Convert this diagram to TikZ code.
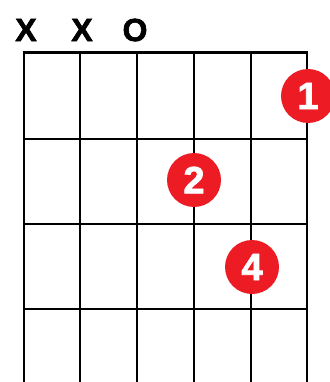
\documentclass[tikz,border=0pt]{standalone}
\usepackage{fontspec}
\setmainfont{Liberation Sans}[BoldFeatures={FakeBold=2}]
\usepackage{xcolor}
\usetikzlibrary{positioning}
\definecolor{dotred}{RGB}{237,28,36}

\begin{document}
\begin{tikzpicture}[
    x=1pt, y=-1pt,
    gridline/.style={draw, line width=2.2pt},
    nutline/.style={draw, line width=3pt},
    mute/.style={inner sep=0pt, font=\bfseries\fontsize{32}{32}\selectfont},
    dot/.style={circle, fill=dotred, minimum size=54pt, inner sep=0pt, text=white, font=\bfseries\fontsize{38}{38}\selectfont}
]
    \useasboundingbox (0,0) rectangle (329,382);

    % strings and frets
    \foreach \sx in {24,80,137,194,251,307}
        \draw [gridline] (\sx,53) -- (\sx,383);
    \foreach \fy in {139,224,309}
        \draw [gridline] (24,\fy) -- (307,\fy);
    \draw [nutline] (22.9,53) -- (308.1,53);

    % open and muted strings
    \node [mute] (mute6) at (26,30) {X};
    \node [mute] (mute5) at (82,30) {X};
    \node [mute] (open4) at (135,30) {O};

    % fingers
    \node [dot] (finger1) at (308,96) {1};
    \node [dot] (finger2) at (194,180) {2};
    \node [dot] (finger4) at (252,267) {4};

\end{tikzpicture}
\end{document}
